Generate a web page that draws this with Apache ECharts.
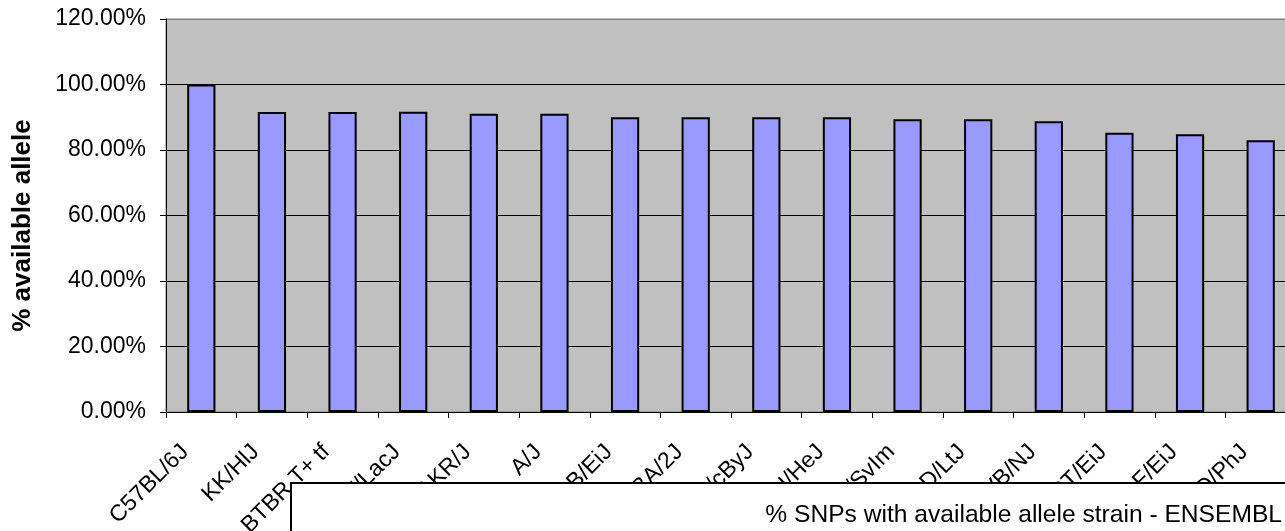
<!DOCTYPE html>
<html>
<head>
<meta charset="utf-8">
<script src="https://cdn.jsdelivr.net/npm/echarts@6/dist/echarts.min.js"></script>
<style>
  html, body { margin: 0; padding: 0; background: #ffffff; }
  #chart { width: 1285px; height: 531px; }
</style>
</head>
<body>
<div id="chart"></div>
<script>
// Mouse strains and the share of SNPs with an available allele (percent)
const strains = [
  'C57BL/6J', 'KK/HlJ', 'BTBR T+ tf', 'NZW/LacJ', 'AKR/J', 'A/J',
  'WSB/EiJ', 'DBA/2J', 'BALB/cByJ', 'C3H/HeJ', '129S1/SvIm', 'NOD/LtJ',
  'FVB/NJ', 'CAST/EiJ', 'MOLF/EiJ', 'PWD/PhJ'
];
const availablePct = [
  100.0, 91.6, 91.6, 91.7, 91.1, 91.1,
  90.0, 90.0, 90.0, 90.0, 89.4, 89.4,
  88.8, 85.3, 84.8, 83.0
];
const yTicks = { min: 0, max: 120, interval: 20 };
const titleText = '% SNPs with available allele strain - ENSEMBL';
const yAxisTitle = '% available allele';

const FONT = 'Liberation Sans, Arial, sans-serif';
const chart = echarts.init(document.getElementById('chart'), null, { renderer: 'canvas' });

chart.setOption({
  animation: false,
  backgroundColor: '#ffffff',
  grid: {
    left: 166, top: 19, width: 1130, height: 393,
    show: true, backgroundColor: '#C0C0C0',
    borderColor: '#808080', borderWidth: 1,
    containLabel: false,
    outerBoundsMode: 'none'
  },
  xAxis: {
    type: 'category',
    data: strains,
    axisLine: { show: true, lineStyle: { color: '#000', width: 1 } },
    axisTick: { show: true, alignWithLabel: false, length: 6, lineStyle: { color: '#000' } },
    axisLabel: {
      interval: 0, rotate: 45, margin: 20,
      padding: [0, 23, 0, 0],
      color: '#000', fontFamily: FONT, fontSize: 23
    },
    splitLine: { show: false }
  },
  yAxis: {
    type: 'value',
    min: yTicks.min, max: yTicks.max, interval: yTicks.interval,
    name: yAxisTitle,
    nameLocation: 'middle',
    nameRotate: 90,
    nameGap: 130,
    nameTextStyle: {
      color: '#000', fontFamily: FONT, fontSize: 26, fontWeight: 'bold',
      padding: [0, 20, 0, 0]
    },
    axisLine: { show: true, lineStyle: { color: '#000', width: 1 } },
    axisTick: { show: true, length: 6, lineStyle: { color: '#000' } },
    axisLabel: {
      margin: 20, color: '#000', fontFamily: FONT, fontSize: 23,
      formatter: v => v.toFixed(2) + '%'
    },
    splitLine: {
      show: true,
      lineStyle: { color: ['#000', '#000', '#000', '#000', '#000', '#000', '#808080'], width: 1 }
    }
  },
  series: [{
    type: 'bar',
    data: availablePct,
    barWidth: '40%',
    itemStyle: { color: '#9999FF', borderColor: '#000', borderWidth: 2 }
  }],
  graphic: [{
    type: 'group',
    z: 100,
    children: [{
      type: 'rect',
      z: 100,
      shape: { x: 291, y: 483, width: 1100, height: 100 },
      style: { fill: '#ffffff', stroke: '#000', lineWidth: 2 }
    }, {
      type: 'text',
      z: 101,
      x: 1282, y: 515,
      style: {
        text: titleText, fill: '#000', font: '24.6px ' + FONT,
        textAlign: 'right', textVerticalAlign: 'middle'
      }
    }]
  }]
});
</script>
</body>
</html>
